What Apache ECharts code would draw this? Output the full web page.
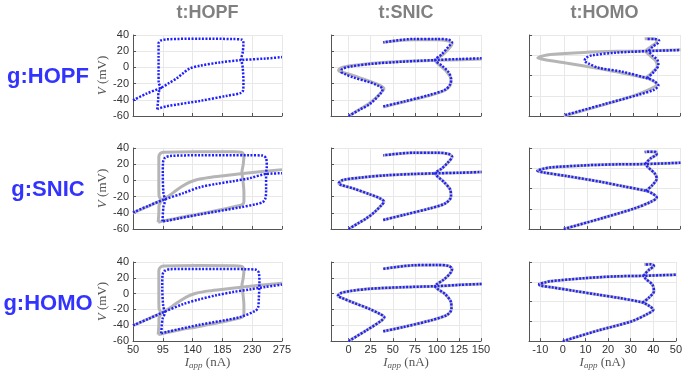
<!DOCTYPE html>
<html>
<head>
<meta charset="utf-8">
<script src="https://cdn.jsdelivr.net/npm/echarts@6/dist/echarts.min.js"></script>
<style>
html, body { margin: 0; padding: 0; background: #fff; }
#main { width: 685px; height: 371px; }
</style>
</head>
<body>
<div id="main"></div>
<script>
// panel titles
var targetNames = ['t:HOPF', 't:SNIC', 't:HOMO'];
var modelNames = ['g:HOPF', 'g:SNIC', 'g:HOMO'];

// x tick values per column
var xTicksHopf = [50, 95, 140, 185, 230, 275];
var xTicksSnic = [0, 25, 50, 75, 100, 125, 150];
var xTicksHomo = [-10, 0, 10, 20, 30, 40, 50];

// target curves (grey), [I_app, V]
var tHopfEq = [[50,-40.3],[70,-33],[93,-24.3],[105,-18.5],[115,-12.5],[125,-7],[135,-2.5],[145,0.5],[165,3.5],[190,6],[216,8.5],[245,11],[275,13.3]];
var tHopfCyc = [[88,-51.7],[89,-40],[89.2,-31],[92.5,-25],[89.3,-19],[89,-5],[89,10],[89,29],[91,33],[96,34.8],[150,35.5],[200,35.3],[214.5,34.5],[217.5,30],[216.5,20],[214.5,10],[216,0],[217.5,-15],[217.5,-26],[215.5,-29.5],[211,-31],[190,-35],[150,-41.5],[120,-46],[95,-50.3],[88,-51.7]];
var tSnicEq = [[0,-60],[10.7,-52.9],[20.2,-46.8],[30,-38.5],[37.3,-30.4],[40,-26.3],[35.4,-22.1],[24,-17.2],[4.9,-9.8],[-8.4,-5.7],[-11.4,-3.6],[-6.5,0.4],[12.6,3.4],[43,6.3],[73.5,7.9],[98.2,8.7],[126.8,9.5],[150.7,10.4]];
var tSnicCyc = [[39.2,-48.9],[62,-42.7],[80,-38],[92.5,-34.5],[104,-30.5],[110,-27.5],[114.5,-23],[116,-18],[115.3,-11.9],[111,-5],[107.7,-1.6],[98.2,8.7],[105.8,14.9],[113.4,23.1],[117.2,29.3],[113.4,32.6],[100,34.2],[73.5,34.2],[55,33],[39.2,30.9]];
var tHomoEq = [[0,-60],[15.8,-47.2],[30.2,-34.8],[37.4,-26.5],[40,-21.2],[38.1,-16.2],[35.3,-12.9],[25,-7],[15.8,-1.7],[1.4,5.3],[-8.6,9.8],[-11.2,11.9],[-9,14.2],[-5.8,16],[8.6,18.5],[23,19.8],[35.3,20.2],[50.2,21.8]];
var tHomoCyc = [[35.3,-12.9],[38.1,-5.9],[40.2,1.5],[39.6,8],[37.5,13.5],[35.3,20.2],[37.5,25.5],[39.8,30.5],[40,33.8],[38.5,35.4],[34.8,35.3]];

// fitted model curves (blue), row = model, column = target
var gHopfTHopfEq = [[50,-40.6],[70,-32.5],[93,-24.9],[104,-19.5],[115.6,-13.7],[126,-7],[135.7,-1.3],[150.7,2],[180.8,6.1],[213,9],[251,11],[275,12.7]];
var gHopfTHopfCyc = [[86.6,-51.7],[88,-40],[88.5,-31],[92,-25.5],[88.8,-19],[88.6,-5],[88.6,11],[88.6,29.7],[91.6,33],[100.6,34.6],[150.7,35.5],[200.8,35],[214.8,34.2],[216.8,29.7],[215.8,19.3],[213.8,11],[215.8,-1.3],[216.8,-17.9],[216.3,-28.2],[213.3,-31.5],[190.8,-35.2],[150.7,-41.4],[100.6,-48],[88,-50.9],[86.6,-51.7]];
var gHopfTSnicEq = [[0,-60],[12.6,-52.2],[24,-45.2],[37.3,-30.8],[38.4,-26.7],[33.5,-22.6],[24,-18.4],[4.9,-12.3],[-4.6,-8.1],[-8.4,-5.3],[-7.2,-2],[1.1,0.9],[24,4.2],[62,7.1],[98.2,9.1],[126.8,10.4],[150.7,11.2]];
var gHopfTSnicCyc = [[39.2,-48.1],[62,-42.3],[92.5,-33.7],[109.6,-27.5],[115.3,-20.5],[116.1,-14.3],[113.4,-6.1],[105.8,2.1],[98.2,9.1],[105.8,16.5],[113.4,26],[117.2,30.9],[113.4,34.2],[100,35.1],[73.5,35.1],[39.2,30.9]];
var gHopfTHomoEq = [[0.6,-58.8],[17.9,-45],[32.3,-33.7],[38.8,-27.6],[40.7,-22.3],[38.8,-16.7],[35.9,-13.4],[25.1,-5.3],[15,-0.5],[10.7,4.8],[8.9,8],[9.5,11.7],[12.1,14.9],[22.2,18.1],[36.7,20.2],[49.9,21.4]];
var gHopfTHomoCyc = [[35.9,-13.4],[38.8,-5.3],[40.7,3],[40.3,9],[38,15],[36.7,20.2],[38.5,26],[40.5,30],[41,33.1],[39,35.1],[35.9,35.1]];

var gSnicTHopfEq = [[50,-39.5],[73,-31.5],[96,-23.9],[126,-15.7],[151,-8.4],[176,-4.3],[201,-1],[226,2.7],[248.5,7.6],[275,8.9]];
var gSnicTHopfCyc = [[94.5,-50.6],[96,-32.1],[98.5,-24.8],[96,-15.7],[95,8.9],[95.5,23.2],[98.5,28.1],[106,30.2],[151,31],[226,31],[246,30.6],[251,27.3],[252,17],[251,8.9],[251,-11.6],[250,-21.9],[246,-26.8],[236,-29.3],[211,-33.4],[151,-42],[101,-49.8],[94.5,-50.6]];
var gSnicTSnicEq = [[0,-60],[10.7,-53],[20.2,-46.8],[30,-38.5],[37.3,-30.4],[40,-26.3],[35.4,-22.1],[24,-17.2],[4.9,-9.8],[-8.4,-5.7],[-11.2,-3.6],[-6.5,0.4],[12.6,3.4],[43,6.3],[73.5,7.9],[98.2,8.7],[126.8,9.5],[150.7,10.4]];
var gSnicTSnicCyc = [[39.2,-48.9],[62,-42.7],[92.5,-34.5],[109.6,-28.3],[116,-20],[115.3,-11.9],[107.7,-1.6],[98.2,8.7],[105.8,14.9],[113.4,23.1],[117.2,29.3],[113.4,32.6],[100,34.2],[73.5,34.2],[39.2,30.9]];
var gSnicTHomoEq = [[0,-60],[15.8,-47.2],[30.2,-34.8],[37.4,-26.5],[40,-21.2],[38.1,-16.2],[35.3,-12.9],[25,-7],[15.8,-1.7],[1.4,5.3],[-8.6,9.8],[-11.4,11.9],[-9,14.2],[-5.8,16],[8.6,18.5],[23,19.8],[35.3,20.2],[50.2,21.8]];
var gSnicTHomoCyc = [[35.3,-12.9],[38.1,-5.9],[40,2.4],[39.1,8.6],[36,16.9],[35.3,20.2],[37.4,27.2],[40,32.6],[39.6,35],[36.7,35.5],[34.8,35]];

var gHomoTHopfEq = [[50,-40.2],[73,-32],[95.6,-23.6],[125.6,-13.3],[150.7,-7.1],[175.8,-2.1],[200.8,2],[225.9,5.3],[250,8.5],[275,11.5]];
var gHomoTHopfCyc = [[92.6,-50.1],[94.6,-31.9],[98,-24.5],[95.6,-15.4],[94.1,9.4],[94.6,23.9],[98,28.8],[105.6,30.9],[150.7,31.3],[220.8,30.9],[235.9,30.1],[239.9,26.8],[240.9,13.6],[239.9,-7.1],[238.9,-17.4],[234.9,-21.6],[210.8,-29.8],[150.7,-39.3],[100.6,-48.4],[92.6,-50.1]];
var gHomoTSnicEq = [[0,-60],[20.2,-46.4],[37.3,-34],[40.4,-29.8],[35.4,-25.7],[24,-19.5],[4.9,-11.2],[-8.4,-5],[-12.2,-3],[-9.5,0.3],[1.1,3.2],[24,6.1],[62,8.2],[98.2,9.4],[126.8,11.1],[150.7,12.3]];
var gHomoTSnicCyc = [[39.2,-47.6],[62,-42.2],[92.5,-34],[111.5,-26.9],[116.5,-19.5],[116.1,-11.2],[109.6,-0.9],[98.2,9.4],[107.7,17.7],[115.3,26],[117.2,31.3],[113.4,35],[100,36.3],[73.5,35.9],[39.2,31.3]];
var gHomoTHomoEq = [[0,-60],[15.8,-46.4],[30.2,-35.2],[37.4,-25.7],[40,-20.3],[38.1,-15.4],[35.3,-11.2],[25,-5.5],[15.8,-1.5],[5,3.5],[-5,8],[-10,10.2],[-10.5,12],[-8,14],[-5.8,15.6],[8.6,19.3],[23,21.8],[36,22.6],[50.2,23.9]];
var gHomoTHomoCyc = [[35.3,-11.2],[38.1,-5],[40.3,3.2],[39.6,11.5],[36.7,18.5],[36,22.6],[38.1,30.1],[40.3,35],[38.8,37.1],[36,36.7]];

var fitCurves = [
    [[gHopfTHopfEq, gHopfTHopfCyc], [gHopfTSnicEq, gHopfTSnicCyc], [gHopfTHomoEq, gHopfTHomoCyc]],
    [[gSnicTHopfEq, gSnicTHopfCyc], [gSnicTSnicEq, gSnicTSnicCyc], [gSnicTHomoEq, gSnicTHomoCyc]],
    [[gHomoTHopfEq, gHomoTHopfCyc], [gHomoTSnicEq, gHomoTSnicCyc], [gHomoTHomoEq, gHomoTHomoCyc]]
];
// grey curve drawn under each panel; where the fit lands on the target the grey sits right under the dots
var greyCurves = [
    [null, [tSnicEq, tSnicCyc], [tHomoEq, tHomoCyc]],
    [[tHopfEq, tHopfCyc], fitCurves[1][1], fitCurves[1][2]],
    [[tHopfEq, tHopfCyc], fitCurves[2][1], fitCurves[2][2]]
];

var colLeft = [133, 331, 529];
var colWidth = [149, 150, 151];
var rowTop = [35, 148, 262];
var rowHeight = 81;
var xRange = [[50, 275], [-20, 150], [-15, 50]];
var xTicks = [xTicksHopf, xTicksSnic, xTicksHomo];
var yInterval = [20, 20, 25];

var font = '"Liberation Sans", Arial, sans-serif';
var serif = '"Liberation Serif", "DejaVu Serif", serif';

var myChart = echarts.init(document.getElementById('main'));

var grids = [], xAxes = [], yAxes = [], series = [], graphics = [];

for (var r = 0; r < 3; r++) {
    for (var c = 0; c < 3; c++) {
        var idx = grids.length;
        grids.push({ left: colLeft[c], top: rowTop[r], width: colWidth[c], height: rowHeight });
        var bottomRow = r === 2;
        xAxes.push({
            type: 'value', gridIndex: idx,
            min: xRange[c][0], max: xRange[c][1],
            axisLine: { show: true, onZero: false, lineStyle: { color: '#555', width: 1 } },
            axisTick: { show: true, inside: true, length: 3, customValues: xTicks[c], lineStyle: { color: '#555' } },
            axisLabel: { show: bottomRow, customValues: xTicks[c], margin: 3, fontSize: 11, color: '#333', fontFamily: font },
            splitLine: { show: true, customValues: xTicks[c], lineStyle: { color: '#e8e8e8', width: 1 } },
            name: bottomRow ? '{i|I}{s|app} {n|(nA)}' : '',
            nameLocation: 'middle', nameGap: 11,
            nameTextStyle: {
                color: '#555',
                rich: {
                    i: { fontFamily: serif, fontStyle: 'italic', fontSize: 13, color: '#555' },
                    s: { fontFamily: serif, fontStyle: 'italic', fontSize: 9, color: '#555', verticalAlign: 'bottom', padding: [6, 0, 0, 0] },
                    n: { fontFamily: serif, fontSize: 13, color: '#555' }
                }
            }
        });
        var firstCol = c === 0;
        yAxes.push({
            type: 'value', gridIndex: idx,
            min: -60, max: 40, interval: yInterval[c],
            axisLine: { show: true, onZero: false, lineStyle: { color: '#555', width: 1 } },
            axisTick: { show: true, inside: true, length: 3, lineStyle: { color: '#555' } },
            axisLabel: { show: firstCol, margin: 4, fontSize: 11, color: '#333', fontFamily: font },
            splitLine: { show: true, lineStyle: { color: '#e8e8e8', width: 1 } },
            name: firstCol ? '{i|V} {n|(mV)}' : '',
            nameLocation: 'middle', nameGap: 22,
            nameTextStyle: {
                color: '#555',
                rich: {
                    i: { fontFamily: serif, fontStyle: 'italic', fontSize: 13, color: '#555' },
                    n: { fontFamily: serif, fontSize: 13, color: '#555' }
                }
            }
        });
        if (greyCurves[r][c]) {
            greyCurves[r][c].forEach(function (d) {
                series.push({
                    type: 'line', xAxisIndex: idx, yAxisIndex: idx, data: d,
                    showSymbol: false, smooth: 0.3, silent: true, z: 2,
                    lineStyle: { color: '#b5b5b5', width: 3 }
                });
            });
        }
        fitCurves[r][c].forEach(function (d) {
            series.push({
                type: 'line', xAxisIndex: idx, yAxisIndex: idx, data: d,
                showSymbol: false, smooth: 0.3, silent: true, z: 3,
                lineStyle: { color: '#2020ff', width: 2.5, type: [2, 1.5], cap: 'butt' }
            });
        });
    }
}

for (var i = 0; i < 3; i++) {
    graphics.push({
        type: 'text', x: colLeft[i] + colWidth[i] / 2, y: 13,
        style: { text: targetNames[i], align: 'center', verticalAlign: 'middle', font: 'bold 18px ' + font, fill: '#808080' }
    });
    graphics.push({
        type: 'text', x: 48, y: rowTop[i] + rowHeight / 2 + 1,
        style: { text: modelNames[i], align: 'center', verticalAlign: 'middle', font: 'bold 22px ' + font, fill: '#3333ff' }
    });
}

var option = {
    animation: false,
    backgroundColor: '#fff',
    grid: grids,
    xAxis: xAxes,
    yAxis: yAxes,
    series: series,
    graphic: graphics
};

myChart.setOption(option);
</script>
</body>
</html>
